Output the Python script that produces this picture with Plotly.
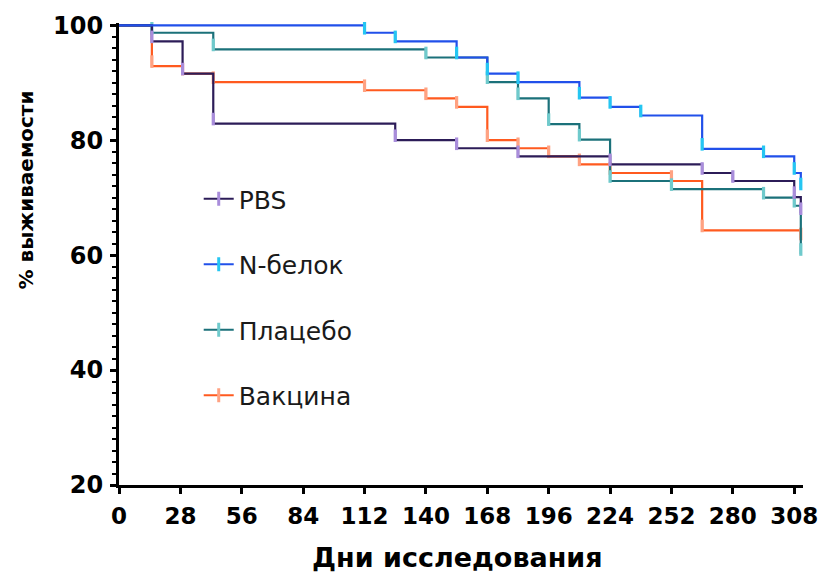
import plotly.graph_objects as go

# Kaplan–Meier survival by study group (step points: day, % surviving)
pbs_days = [0, 15, 29, 43, 126, 154, 182, 224, 266, 280, 308, 311]
pbs_surv = [100, 97.2, 91.6, 82.9, 80.0, 78.6, 77.2, 75.8, 74.3, 72.9, 70.1, 67.3]

nprot_days = [0, 112, 126, 154, 168, 182, 210, 224, 238, 266, 294, 308, 311]
nprot_surv = [100, 98.7, 97.2, 94.4, 91.6, 90.1, 87.4, 85.8, 84.3, 78.5, 77.2, 74.3, 71.6]

placebo_days = [0, 15, 43, 140, 168, 182, 196, 210, 224, 252, 294, 308, 311]
placebo_surv = [100, 98.7, 95.8, 94.4, 90.1, 87.3, 82.8, 80.1, 72.9, 71.5, 70.0, 68.6, 60.2]

vaccine_days = [0, 15, 29, 43, 112, 140, 154, 168, 182, 196, 210, 224, 252, 266, 311]
vaccine_surv = [100, 92.9, 91.6, 90.1, 88.7, 87.3, 85.8, 80.0, 78.6, 77.2, 75.8, 74.3, 72.9, 64.3, 62.9]

x_ticks = list(range(0, 309, 28))
y_ticks = [20, 40, 60, 80, 100]

# Canvas and plot-area geometry
W, H = 830, 577
M_L, M_R, M_T, M_B = 119, 16, 23, 92
X_RANGE = [0, 312]
Y_RANGE = [20, 100.4]

# Event ticks rise a fixed number of pixels above each new level
TICK_PX = 9
px_per_unit = (H - M_T - M_B) / (Y_RANGE[1] - Y_RANGE[0])
tick_off = (TICK_PX / 2) / px_per_unit

series = [
    # name, days, surv, line colour, tick colour, legend rank
    ("Вакцина", vaccine_days, vaccine_surv, "#ff5a1f", "#ffa282", 4),
    ("Плацебо", placebo_days, placebo_surv, "#1b717a", "#6fcacc", 3),
    ("PBS", pbs_days, pbs_surv, "#2c1c58", "#a98ddb", 1),
    ("N-белок", nprot_days, nprot_surv, "#2150ea", "#25c6f2", 2),
]

fig = go.Figure()

for name, days, surv, lc, tc, rank in series:
    fig.add_trace(go.Scatter(
        x=days, y=surv, mode="lines", line=dict(color=lc, width=2.2, shape="hv"),
        showlegend=False, hoverinfo="skip", cliponaxis=False,
    ))
    fig.add_trace(go.Scatter(
        x=days[1:], y=[s + tick_off for s in surv[1:]], mode="markers",
        marker=dict(symbol="line-ns", size=TICK_PX, line=dict(width=3.2, color=tc)),
        showlegend=False, hoverinfo="skip", cliponaxis=False,
    ))

# Legend entries: line with event-tick symbol
for name, days, surv, lc, tc, rank in series:
    fig.add_trace(go.Scatter(
        x=[None], y=[None], mode="lines+markers", name=name,
        line=dict(color=lc, width=2),
        marker=dict(symbol="line-ns", size=10, line=dict(width=3, color=tc)),
        legendrank=rank, legendgroup=name,
    ))

axis_common = dict(
    showline=True, linecolor="black", linewidth=3, mirror=False,
    ticks="outside", tickcolor="black", tickwidth=3, ticklen=6,
    showgrid=False, zeroline=False,
)

fig.update_xaxes(
    range=X_RANGE, tickmode="array", tickvals=x_ticks,
    ticktext=[str(v) for v in x_ticks],
    tickfont=dict(family="DejaVu Sans", size=23, color="black", weight="bold"),
    ticklabelstandoff=2,
    **axis_common,
)
fig.update_yaxes(
    range=Y_RANGE, tickmode="array", tickvals=y_ticks,
    ticktext=[str(v) for v in y_ticks],
    tickfont=dict(family="DejaVu Sans", size=24, color="black", weight="bold"),
    ticklabelstandoff=2,
    minor=dict(dtick=2, tick0=20, ticks="outside", ticklen=4, tickwidth=2, tickcolor="black"),
    **axis_common,
)

fig.add_annotation(
    text="<b>Дни исследования</b>", xref="paper", yref="paper",
    x=(462.5 - M_L) / (W - M_L - M_R), y=(H - M_B - 557) / (H - M_T - M_B),
    xanchor="center", yanchor="middle", showarrow=False,
    font=dict(family="DejaVu Sans", size=27, color="black"),
)
fig.add_annotation(
    text="<b>% выживаемости</b>", xref="paper", yref="paper",
    x=(25 - M_L) / (W - M_L - M_R), y=(H - M_B - 190) / (H - M_T - M_B),
    xanchor="center", yanchor="middle", textangle=-90, showarrow=False,
    font=dict(family="DejaVu Sans", size=20, color="black"),
)

fig.update_layout(
    width=W, height=H,
    margin=dict(l=M_L, r=M_R, t=M_T, b=M_B),
    paper_bgcolor="white", plot_bgcolor="white",
    font=dict(family="DejaVu Sans"),
    legend=dict(
        x=(200 - M_L) / (W - M_L - M_R), y=(H - M_B - 176) / (H - M_T - M_B),
        xanchor="left", yanchor="top", bgcolor="rgba(0,0,0,0)",
        font=dict(family="DejaVu Sans", size=25, color="#1a1a1a"),
        tracegroupgap=30, itemwidth=30,
    ),
)

fig.write_html("out.html")
